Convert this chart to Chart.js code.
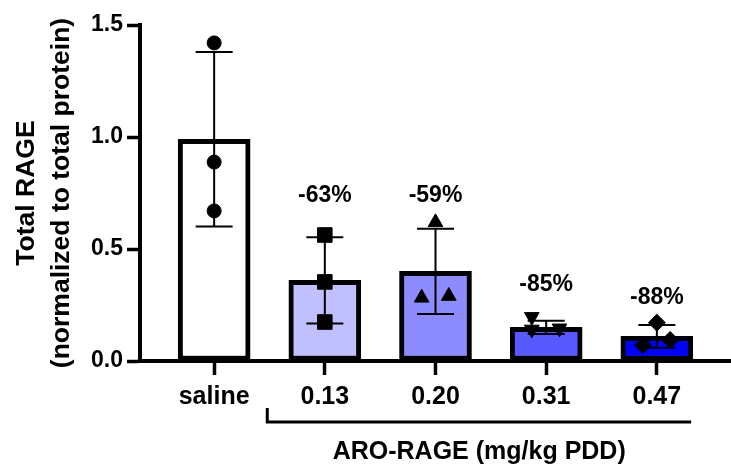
<!DOCTYPE html>
<html><head><meta charset="utf-8">
<script src="https://cdn.jsdelivr.net/npm/chart.js@4/dist/chart.umd.min.js"></script>
<style>html,body{margin:0;padding:0;background:#fff}#wrap{width:731px;height:466px;position:relative}</style>
</head><body><div id="wrap"><canvas id="c" width="731" height="466"></canvas></div>
<script>
// ---- data ----
const categories = ['saline', '0.13', '0.20', '0.31', '0.47'];
const barMeans = [0.99, 0.36, 0.40, 0.15, 0.11];
const barSD = [0.39, 0.193, 0.19, 0.03, 0.051];
const salinePoints = [1.42, 0.888, 0.67];
const dose013Points = [0.5625, 0.353, 0.174];
const dose020Points = [0.619, 0.282, 0.29];
const dose031Points = [0.197, 0.141, 0.146];
const dose047Points = [0.171, 0.071, 0.094];
const pointJitter = [[0, 0, 0], [0, 0, 0], [0, -0.125, 0.12], [-0.13, -0.13, 0.12], [0, -0.125, 0.12]];
const percentLabels = [null, '-63%', '-59%', '-85%', '-88%'];
const percentLabelY = [null, 0.74, 0.74, 0.34, 0.285];
const yTicks = [0, 0.5, 1.0, 1.5];
const xTitle = 'ARO-RAGE (mg/kg PDD)';
const yTitle = ['Total RAGE', '(normalized to total protein)'];

const FONT = "Arial, 'Liberation Sans', Helvetica, sans-serif";
const groupPoints = [salinePoints, dose013Points, dose020Points, dose031Points, dose047Points];
const barColors = ['#ffffff', '#c0c0ff', '#8c8cff', '#5858ff', '#0000ff'];
const pointStyles = [
  {style: 'circle', r: 7, rot: 0},
  {style: 'rect', r: 10.3, rot: 0},
  {style: 'triangle', r: 8.5, rot: 0},
  {style: 'triangle', r: 8.5, rot: 180},
  {style: 'rectRot', r: 8.5, rot: 0}
];

const scatterSets = groupPoints.map((pts, i) => ({
  type: 'scatter',
  data: pts.map((v, k) => ({x: i + pointJitter[i][k], y: v})),
  pointStyle: pointStyles[i].style,
  pointRadius: pointStyles[i].r,
  pointRotation: pointStyles[i].rot,
  backgroundColor: '#000',
  borderColor: '#000',
  borderWidth: 1,
  clip: false,
  order: 1
}));

const errorBarPlugin = {
  id: 'errorBars',
  afterDatasetDraw(chart, args) {
    if (args.index !== 0) return;
    const xs = chart.scales.x, ys = chart.scales.y, ctx = chart.ctx;
    ctx.save();
    ctx.strokeStyle = '#000';
    ctx.lineWidth = 2;
    barMeans.forEach((m, i) => {
      const x = xs.getPixelForValue(i);
      const t = ys.getPixelForValue(m + barSD[i]);
      const b = ys.getPixelForValue(m - barSD[i]);
      ctx.beginPath();
      ctx.moveTo(x, t); ctx.lineTo(x, b);
      ctx.moveTo(x - 18.5, t); ctx.lineTo(x + 18.5, t);
      ctx.moveTo(x - 18.5, b); ctx.lineTo(x + 18.5, b);
      ctx.stroke();
    });
    ctx.restore();
  }
};

const annotPlugin = {
  id: 'annot',
  afterDraw(chart) {
    const xs = chart.scales.x, ys = chart.scales.y, ctx = chart.ctx;
    const base = chart.chartArea.bottom;
    ctx.save();
    ctx.fillStyle = '#000';
    ctx.textAlign = 'center';
    ctx.textBaseline = 'middle';
    ctx.font = 'bold 23px ' + FONT;
    percentLabels.forEach((t, i) => {
      if (t) ctx.fillText(t, xs.getPixelForValue(i), ys.getPixelForValue(percentLabelY[i]));
    });
    // bracket under dose groups
    const bl = xs.getPixelForValue(0.48), br = xs.getPixelForValue(4.31);
    ctx.strokeStyle = '#000';
    ctx.lineWidth = 3;
    ctx.beginPath();
    ctx.moveTo(bl, base + 47);
    ctx.lineTo(bl, base + 61);
    ctx.lineTo(br, base + 61);
    ctx.stroke();
    ctx.font = 'bold 25px ' + FONT;
    ctx.fillText(xTitle, (bl + br) / 2, base + 91);
    ctx.restore();
  }
};

new Chart(document.getElementById('c'), {
  type: 'bar',
  data: {
    datasets: [{
      type: 'bar',
      data: barMeans.map((m, i) => ({x: i, y: m})),
      backgroundColor: barColors,
      borderColor: '#000',
      borderWidth: 5,
      borderSkipped: false,
      barThickness: 72,
      order: 2
    }, ...scatterSets]
  },
  options: {
    responsive: false,
    animation: false,
    devicePixelRatio: 1,
    layout: {autoPadding: false, padding: {top: 25, right: 0, left: 0, bottom: 0}},
    plugins: {legend: {display: false}, tooltip: {enabled: false}},
    scales: {
      x: {
        type: 'linear',
        min: -0.67,
        max: 4.67,
        offset: false,
        afterBuildTicks: s => { s.ticks = categories.map((c, i) => ({value: i})); },
        afterFit: s => { s.height = 105; s.paddingLeft = 0; s.paddingRight = 0; },
        ticks: {
          callback: v => categories[v],
          color: '#000',
          font: {family: FONT, size: 25, weight: 'bold'},
          padding: 7,
          maxRotation: 0,
          autoSkip: false
        },
        grid: {offset: false, drawOnChartArea: false, drawTicks: true, tickLength: 14, tickWidth: 3.5, tickColor: '#000', color: '#000'},
        border: {display: true, color: '#000', width: 4}
      },
      y: {
        type: 'linear',
        min: 0,
        max: 1.5,
        afterBuildTicks: s => { s.ticks = yTicks.map(v => ({value: v})); },
        afterFit: s => { s.width = 140; },
        ticks: {
          callback: v => Number(v).toFixed(1),
          color: '#000',
          font: {family: FONT, size: 23, weight: 'bold'},
          padding: 4
        },
        grid: {drawOnChartArea: false, drawTicks: true, tickLength: 13, tickWidth: 3.5, tickColor: '#000', color: '#000'},
        border: {display: true, color: '#000', width: 4},
        title: {
          display: true,
          text: yTitle,
          color: '#000',
          font: {family: FONT, size: 26.5, weight: 'bold', lineHeight: 1.32},
          padding: {top: 9.5, bottom: 0}
        }
      }
    }
  },
  plugins: [errorBarPlugin, annotPlugin]
});
</script>
</body></html>
